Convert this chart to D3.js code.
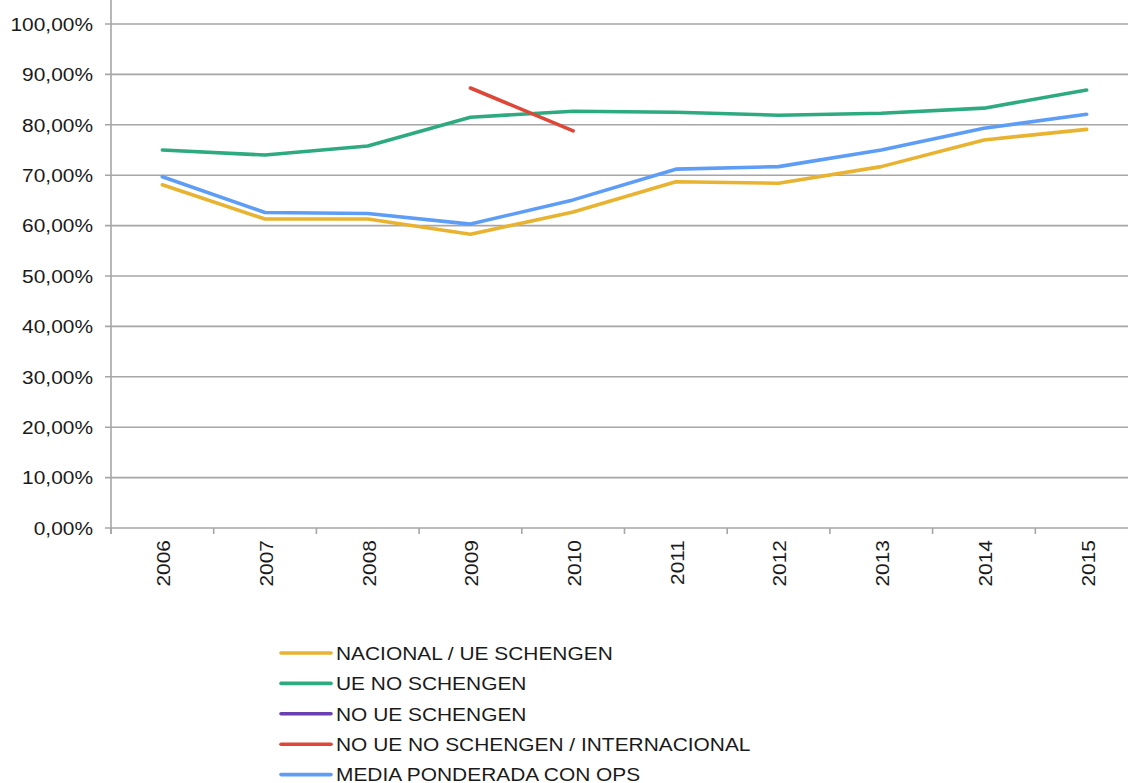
<!DOCTYPE html>
<html>
<head>
<meta charset="utf-8">
<script src="https://cdn.jsdelivr.net/npm/d3@7/dist/d3.min.js"></script>
<style>
  html, body { margin: 0; padding: 0; background: #fff; }
  svg { display: block; }
  text { font-family: "Liberation Sans", Arial, sans-serif; fill: #1a1a1a; }
</style>
</head>
<body>
<svg id="chart" width="1128" height="783"></svg>
<script>
const years = ["2006","2007","2008","2009","2010","2011","2012","2013","2014","2015"];
const yTicks = [0,10,20,30,40,50,60,70,80,90,100];

const nacionalUeSchengen = [68.1, 61.3, 61.3, 58.3, 62.7, 68.7, 68.4, 71.7, 77.0, 79.1];
const ueNoSchengen      = [75.0, 74.0, 75.8, 81.5, 82.7, 82.5, 81.9, 82.3, 83.3, 86.9];
const noUeSchengen      = [null, null, null, null, null, null, null, null, null, null];
const noUeNoSchengenInt = [null, null, null, 87.3, 78.8, null, null, null, null, null];
const mediaPonderadaOps = [69.7, 62.6, 62.4, 60.3, 65.1, 71.2, 71.7, 75.0, 79.3, 82.1];

const seriesNames  = ["NACIONAL / UE SCHENGEN","UE NO SCHENGEN","NO UE SCHENGEN","NO UE NO SCHENGEN / INTERNACIONAL","MEDIA PONDERADA CON OPS"];
const seriesValues = [nacionalUeSchengen, ueNoSchengen, noUeSchengen, noUeNoSchengenInt, mediaPonderadaOps];
const seriesColors = ["#E8B330","#2EAA80","#6A3FB0","#DE4638","#5E9DF5"];

(function () {
const svg = d3.select("#chart");
const pLeft = 111, pRight = 1138, pTop = 24, pBottom = 528;
const sx = 1.1;

const x = d3.scaleBand().domain(years).range([pLeft, pRight]).padding(0);
const y = d3.scaleLinear().domain([0, 100]).range([pBottom, pTop]);

const gridColor = "#A6A6A6";

svg.append("g").selectAll("line").data(yTicks).join("line")
  .attr("x1", pLeft - 6).attr("x2", pRight)
  .attr("y1", d => y(d)).attr("y2", d => y(d))
  .attr("stroke", gridColor).attr("stroke-width", 1.6);

svg.append("g").selectAll("text").data(yTicks).join("text")
  .attr("transform", d => `translate(93,${y(d)}) scale(${sx},1)`)
  .attr("dy", "0.36em")
  .attr("text-anchor", "end").attr("font-size", 19)
  .text(d => d3.format(".2f")(d).replace(".", ",") + "%");

svg.append("line").attr("x1", pLeft).attr("x2", pLeft).attr("y1", 0).attr("y2", pBottom + 6)
  .attr("stroke", gridColor).attr("stroke-width", 1.6);

const bounds = years.map(d => x(d)).concat([pRight]);
svg.append("g").selectAll("line").data(bounds).join("line")
  .attr("x1", d => d).attr("x2", d => d).attr("y1", pBottom).attr("y2", pBottom + 6)
  .attr("stroke", gridColor).attr("stroke-width", 1.6);

svg.append("g").selectAll("text").data(years).join("text")
  .attr("transform", d => `translate(${x(d) + x.bandwidth() / 2 + 1},540) rotate(-90) scale(${sx},1)`)
  .attr("text-anchor", "end").attr("dy", "0.36em").attr("font-size", 19)
  .text(d => d);

const line = d3.line()
  .defined(d => d.v != null)
  .x(d => x(d.year) + x.bandwidth() / 2)
  .y(d => y(d.v));

seriesValues.forEach((vals, i) => {
  const data = years.map((yr, j) => ({ year: yr, v: vals[j] }));
  svg.append("path").datum(data)
    .attr("d", line).attr("fill", "none")
    .attr("stroke", seriesColors[i]).attr("stroke-width", 3.6)
    .attr("stroke-linejoin", "round").attr("stroke-linecap", "round");
});

const legend = svg.append("g");
seriesNames.forEach((name, i) => {
  const cy = 653 + i * 30.4;
  legend.append("line").attr("x1", 281).attr("x2", 331).attr("y1", cy).attr("y2", cy)
    .attr("stroke", seriesColors[i]).attr("stroke-width", 3.6).attr("stroke-linecap", "round");
  legend.append("text").attr("transform", `translate(336,${cy}) scale(${sx},1)`)
    .attr("dy", "0.36em")
    .attr("font-size", 19).text(name);
});
})();
</script>
</body>
</html>
